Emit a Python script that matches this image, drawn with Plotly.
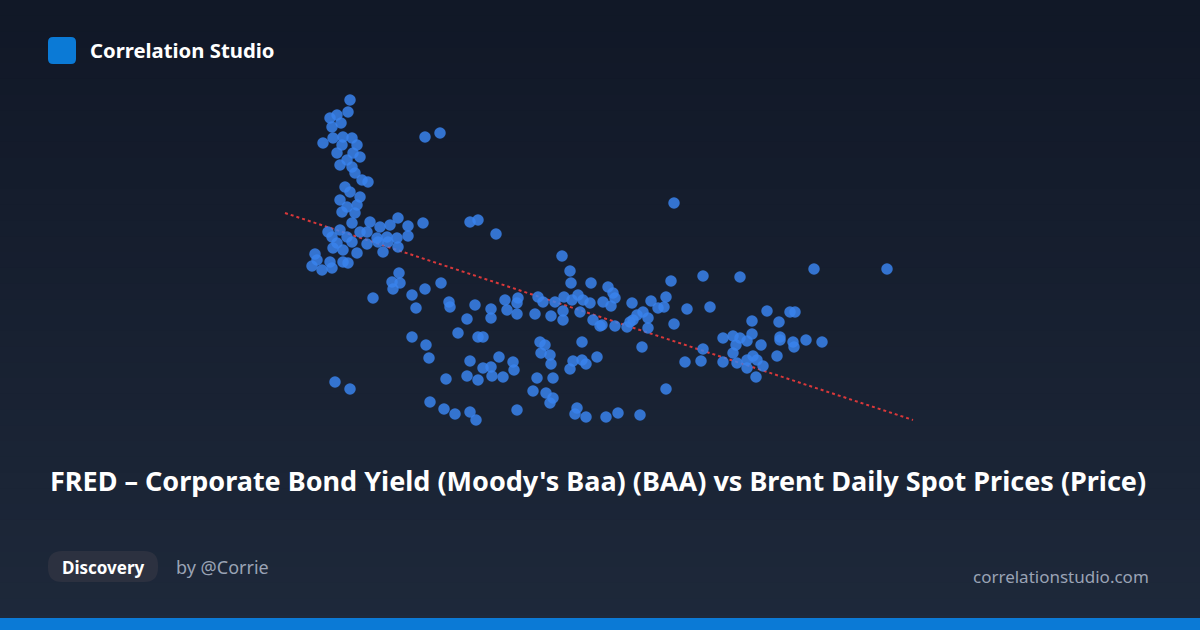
import plotly.graph_objects as go

# Readings from the picture (chart units, axes hidden): x ~ Brent price, y ~ BAA yield (inverted scale)
brent = [350,348,330,337,332,341,323,333,343,352,357,342,337,353,360,347,340,352,355,362,368,345,350,360,340,357,347,342,355,398,423,370,380,390,408,328,340,352,360,347,367,377,387,397,408,332,337,352,367,378,388,333,343,357,383,398,315,317,330,312,322,332,343,348,425,440,470,478,496,
 562,570,571,591,671,399,392,393,400,441,425,412,416,449,450,475,491,491,467,505,507,517,518,517,535,538,543,551,555,564,563,563,572,578,583,590,580,593,600,603,608,613,615,611,615,632,627,633,643,648,648,651,658,666,664,674,412,426,429,458,478,483,540,545,541,550,551,582,642,470,499,483,491,513,514,446,467,478,492,503,537,553,533,546,553,550,573,570,582,586,597,666,430,444,455,470,476,517,577,575,586,606,618,640,
 674,887,814,703,740,637,630,602,687,710,752,767,779,790,795,723,733,740,747,752,761,736,780,780,793,794,806,822,703,701,685,723,733,737,747,753,757,763,777,747,756,335,350,373]
baa = [100,112,118,115,127,123,143,138,137,138,145,145,153,153,157,160,165,167,173,180,182,187,192,197,200,205,207,212,213,218,223,222,227,225,226,232,230,223,232,237,232,238,237,238,236,237,243,242,244,242,242,248,250,253,252,247,254,260,262,266,270,268,262,263,137,133,222,220,234,
 256,271,283,283,281,273,282,289,283,283,289,295,308,302,307,305,309,318,319,300,310,303,298,314,314,297,302,316,302,297,311,320,300,295,300,303,312,320,326,302,287,293,298,306,326,303,327,320,312,318,328,301,308,297,307,324,337,345,358,333,337,337,342,345,353,355,364,342,347,361,357,368,367,362,370,379,376,380,376,377,378,378,391,393,398,403,361,369,360,364,357,389,402,409,414,412,420,410,408,414,417,417,413,415,
 203,269,269,276,277,315,322,325,309,307,321,311,322,312,312,338,336,338,341,334,345,345,337,340,342,347,340,342,349,361,362,362,353,363,360,356,360,366,356,368,377,382,389,298]
trend_x = [285, 913]
trend_y = [213, 420]


def rrect(x0, y0, x1, y1, r):
    return (f"M{x0+r},{y0} L{x1-r},{y0} Q{x1},{y0} {x1},{y0+r} L{x1},{y1-r} Q{x1},{y1} {x1-r},{y1} "
            f"L{x0+r},{y1} Q{x0},{y1} {x0},{y1-r} L{x0},{y0+r} Q{x0},{y0} {x0+r},{y0} Z")


fig = go.Figure()
n = 40
shapes = []
top = (17, 24, 39); bot = (30, 41, 59)
for i in range(n):
    t = i / (n - 1)
    c = tuple(int(top[k] + (bot[k] - top[k]) * t) for k in range(3))
    shapes.append(dict(type="rect", xref="paper", yref="paper", x0=0, x1=1,
                       y1=1 - i / n, y0=1 - (i + 1) / n - 0.002, line_width=0,
                       fillcolor="rgb(%d,%d,%d)" % c, layer="below"))
shapes.append(dict(type="rect", xref="paper", yref="paper", x0=0, x1=1, y0=0, y1=12/630,
                   line_width=0, fillcolor="#0b7ad6", layer="above"))
shapes.append(dict(type="path", xref="x", yref="y", path=rrect(48, 37, 76, 64, 5),
                   line_width=0, fillcolor="#0b7ad6"))
shapes.append(dict(type="path", xref="x", yref="y", path=rrect(48, 551, 158, 582, 14),
                   line_width=0, fillcolor="#2c3140"))

fig.add_trace(go.Scatter(x=trend_x, y=trend_y, mode="lines",
                         line=dict(color="#d9383a", width=2, dash="dot"), hoverinfo="skip"))
fig.add_trace(go.Scatter(x=brent, y=baa, mode="markers",
                         marker=dict(size=11.5, color="#3a82ec", opacity=0.85, line_width=0)))

ann = [
    dict(x=88, y=50, text="<b>Correlation Studio</b>", xanchor="left", font=dict(size=20.3, color="white")),
    dict(x=48, y=480, text="<b>FRED – Corporate Bond Yield (Moody's Baa) (BAA) vs Brent Daily Spot Prices (Price)</b>",
         xanchor="left", font=dict(size=27, color="white")),
    dict(x=103, y=567, text="<b>Discovery</b>", xanchor="center", font=dict(size=17, color="white")),
    dict(x=174, y=567, text="by @Corrie", xanchor="left", font=dict(size=18, color="#9aa3b5")),
    dict(x=1151, y=576, text="correlationstudio.com", xanchor="right", font=dict(size=17, color="#9aa3b5")),
]
for a in ann:
    a.update(xref="x", yref="y", showarrow=False, yanchor="middle")

fig.update_layout(width=1200, height=630, margin=dict(l=0, r=0, t=0, b=0),
                  paper_bgcolor="#111827", plot_bgcolor="rgba(0,0,0,0)", showlegend=False,
                  font=dict(family="Noto Sans"), shapes=shapes, annotations=ann,
                  xaxis=dict(range=[0, 1200], visible=False, fixedrange=True),
                  yaxis=dict(range=[630, 0], visible=False, fixedrange=True))
fig.write_html("out.html", config={"displayModeBar": False},
               post_script="document.body.style.margin='0';document.body.style.overflow='hidden';")
